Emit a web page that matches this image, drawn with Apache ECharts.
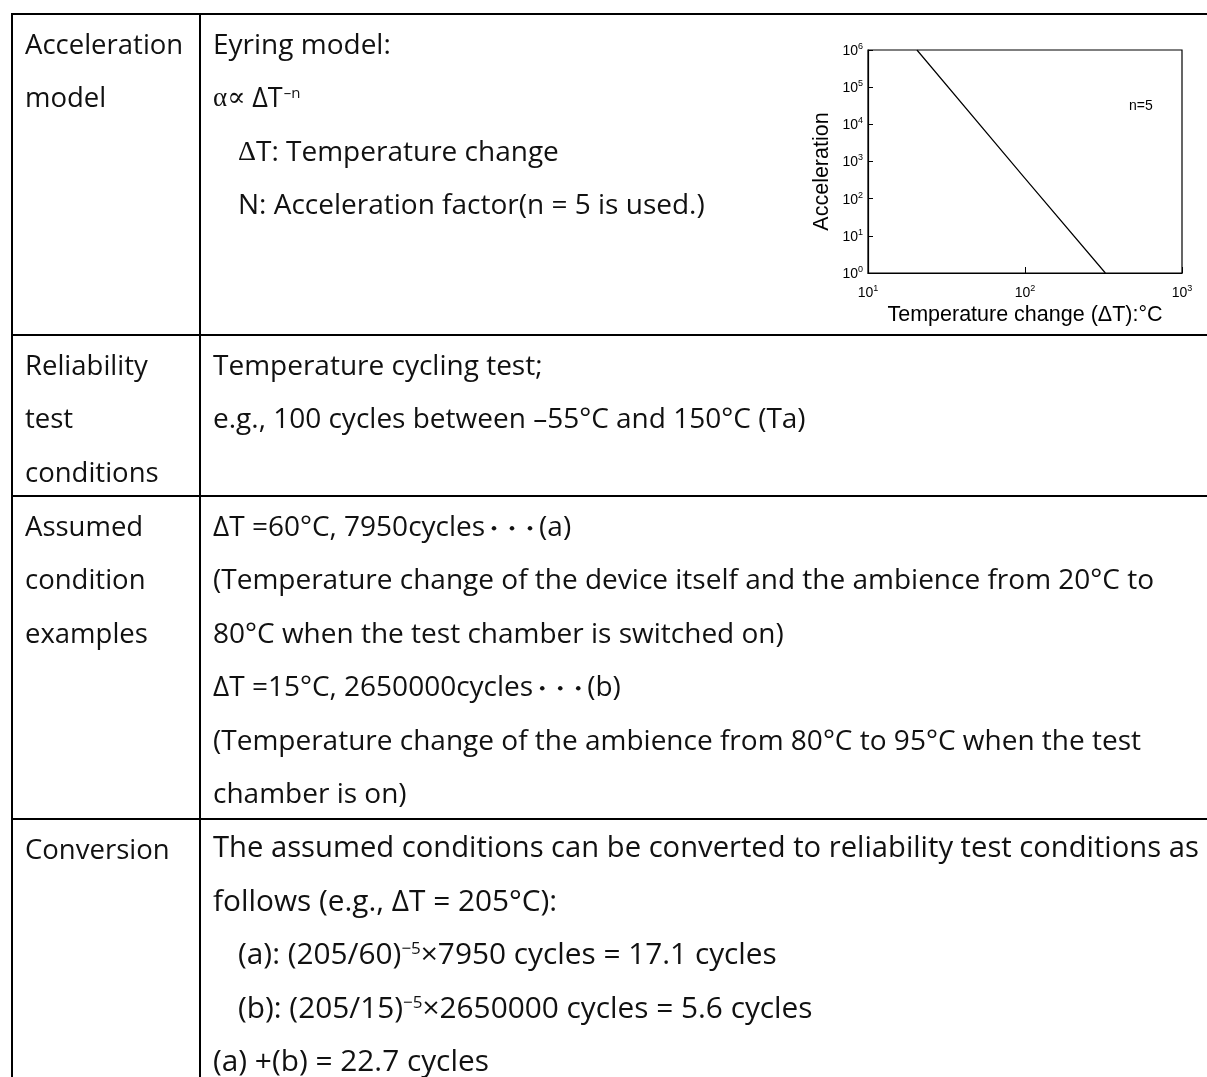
<!DOCTYPE html>
<html>
<head>
<meta charset="utf-8">
<script src="https://cdn.jsdelivr.net/npm/echarts@6/dist/echarts.min.js"></script>
<style>
html,body{margin:0;padding:0;background:#fff;}
#c{width:1207px;height:1077px;}
</style>
</head>
<body>
<div id="c"></div>
<script>
// ---- data for the small log-log chart ----
const deltaT = [20.5, 100, 325];          // temperature change (°C)
const acceleration = [1000000, 350, 1];   // acceleration factor
const xTickExponents = [1, 2, 3];
const yTickExponents = [0, 1, 2, 3, 4, 5, 6];
const curveLabel = 'n=5';

// ---- table text ----
const rowHeaders = [
  ['Acceleration', 'model'],
  ['Reliability', 'test', 'conditions'],
  ['Assumed', 'condition', 'examples'],
  ['Conversion']
];
const reliabilityLines = ['Temperature cycling test;', 'e.g., 100 cycles between \u201355\u00b0C and 150\u00b0C (Ta)'];
const assumedLines = [
  ['\u0394T =60\u00b0C, 7950cycles', '\u30fb\u30fb\u30fb', '(a)'],
  '(Temperature change of the device itself and the ambience from 20\u00b0C to',
  '80\u00b0C when the test chamber is switched on)',
  ['\u0394T =15\u00b0C, 2650000cycles', '\u30fb\u30fb\u30fb', '(b)'],
  '(Temperature change of the ambience from 80\u00b0C to 95\u00b0C when the test',
  'chamber is on)'
];

const FONT = '"Open Sans", "Noto Sans", sans-serif';
const SERIF = '"Liberation Serif", "DejaVu Serif", serif';
const CJK = '"Noto Sans CJK JP", sans-serif';
const FS = 28;
const FS4 = 29.8;
const LH = 53.4;
const X1 = 25, X2 = 213, X2I = 238;
const rowTops = [14, 335, 496, 819];
const OFF = 32;

const chart = echarts.init(document.getElementById('c'), null, {renderer: 'canvas'});

const g = [];
function line(x1, y1, x2, y2) {
  g.push({type: 'line', shape: {x1, y1, x2, y2}, style: {stroke: '#000', lineWidth: 2}, z: 10});
}
function txt(x, y, text, extra) {
  g.push({type: 'text', x: x, y: y, style: Object.assign({
    text: text, font: FS + 'px ' + FONT, fill: '#111', verticalAlign: 'middle', align: 'left'
  }, extra || {}), z: 10});
}
// borders
line(11, 14, 1207, 14);
line(12, 13, 12, 1077);
line(200, 13, 200, 1077);
line(11, 335, 1207, 335);
line(11, 496, 1207, 496);
line(11, 819, 1207, 819);

// left column headers
rowHeaders.forEach((arr, r) => {
  arr.forEach((t, i) => txt(X1, rowTops[r] + OFF + i * LH, t, {font: '27.5px ' + FONT}));
});

// row 1 : Eyring model
const r1 = rowTops[0] + OFF;
txt(X2, r1, 'Eyring model:');
txt(X2, r1 + LH, '{g|\u03b1\u221d }{n|\u0394T}{s|\u2013n}', {
  rich: {
    g: {fontFamily: SERIF, fontSize: 27, fill: '#111', verticalAlign: 'middle'},
    n: {fontFamily: FONT, fontSize: 27, fill: '#111', verticalAlign: 'middle'},
    s: {fontFamily: FONT, fontSize: 15, fill: '#111', verticalAlign: 'top', padding: [0, 0, 10, 1]}
  }
});
txt(X2I, r1 + 2 * LH, '{n|\u0394}{t|T: Temperature change}', {
  rich: {
    n: {fontFamily: SERIF, fontSize: FS, fill: '#111'},
    t: {fontFamily: FONT, fontSize: FS, fill: '#111'}
  }
});
txt(X2I, r1 + 3 * LH, 'N: Acceleration factor(n = 5 is used.)');

// row 2
reliabilityLines.forEach((t, i) => txt(X2, rowTops[1] + OFF + i * LH, t));
// row 3
const dotRich = {
  t: {fontFamily: FONT, fontSize: FS, fill: '#111', verticalAlign: 'middle'},
  d: {fontFamily: CJK, fontSize: 18, fontWeight: 'bold', fill: '#111', verticalAlign: 'middle'}
};
assumedLines.forEach((t, i) => {
  const y = rowTops[2] + OFF + i * LH;
  if (Array.isArray(t)) {
    txt(X2, y, '{t|' + t[0] + '}{d|' + t[1] + '}{t|' + t[2] + '}', {rich: dotRich});
  } else {
    txt(X2, y, t);
  }
});
// row 4
const r4 = rowTops[3] + 30;
const supRich = {
  t: {fontFamily: FONT, fontSize: FS4, fill: '#111', verticalAlign: 'middle'},
  s: {fontFamily: FONT, fontSize: 17, fill: '#111', verticalAlign: 'top', padding: [0, 0, 8, 0]}
};
const f4 = {font: FS4 + 'px ' + FONT};
txt(X2, r4, 'The assumed conditions can be converted to reliability test conditions as', {font: '29.2px ' + FONT});
txt(X2, r4 + LH, 'follows (e.g., \u0394T = 205\u00b0C):', f4);
txt(X2I, r4 + 2 * LH, '{t|(a): (205/60)}{s|\u22125}{t|\u00d77950 cycles = 17.1 cycles}', {rich: supRich});
txt(X2I, r4 + 3 * LH, '{t|(b): (205/15)}{s|\u22125}{t|\u00d72650000 cycles = 5.6 cycles}', {rich: supRich});
txt(X2, r4 + 4 * LH, '(a) +(b) = 22.7 cycles', f4);

// n=5 label
g.push({type: 'text', x: 1129, y: 106, style: {text: curveLabel, font: '14px "Liberation Sans", Arial, sans-serif', fill: '#000', verticalAlign: 'middle'}, z: 10});

const CF = '"Liberation Sans", Arial, sans-serif';
const powRich = {
  b: {fontFamily: CF, fontSize: 14, color: '#000', verticalAlign: 'bottom', lineHeight: 16},
  e: {fontFamily: CF, fontSize: 9, color: '#000', verticalAlign: 'top', lineHeight: 16}
};
function powLabel(v) {
  const e = Math.round(Math.log10(v));
  return '{b|10}{e|' + e + '}';
}

const option = {
  backgroundColor: '#fff',
  animation: false,
  grid: {left: 868, top: 50, width: 314, height: 223, show: true, borderColor: '#000', borderWidth: 1.2, backgroundColor: 'transparent'},
  xAxis: {
    type: 'log', logBase: 10, min: Math.pow(10, xTickExponents[0]), max: Math.pow(10, xTickExponents[xTickExponents.length - 1]),
    splitNumber: xTickExponents.length - 1,
    name: 'Temperature change (\u0394T):\u00b0C', nameLocation: 'middle', nameGap: 31,
    nameTextStyle: {fontFamily: CF, fontSize: 21.5, color: '#000'},
    axisLine: {show: true, lineStyle: {color: '#000', width: 1.2}},
    axisTick: {show: true, inside: true, length: 6, lineStyle: {color: '#000'}},
    axisLabel: {formatter: powLabel, rich: powRich, margin: 11},
    splitLine: {show: false}
  },
  yAxis: {
    type: 'log', logBase: 10, min: Math.pow(10, yTickExponents[0]), max: Math.pow(10, yTickExponents[yTickExponents.length - 1]),
    splitNumber: yTickExponents.length - 1,
    name: 'Acceleration', nameLocation: 'middle', nameGap: 35, nameRotate: 90,
    nameTextStyle: {fontFamily: CF, fontSize: 21.5, color: '#000', padding: [0, 20, 0, 0]},
    axisLine: {show: true, lineStyle: {color: '#000', width: 1.2}},
    axisTick: {show: true, inside: true, length: 5, lineStyle: {color: '#000'}},
    axisLabel: {formatter: powLabel, rich: powRich, margin: 5},
    splitLine: {show: false}
  },
  series: [{
    type: 'line',
    data: deltaT.map((x, i) => [x, acceleration[i]]),
    showSymbol: false, symbol: 'none',
    lineStyle: {color: '#000', width: 1.2},
    clip: true
  }],
  graphic: g
};
chart.setOption(option);
</script>
</body>
</html>
